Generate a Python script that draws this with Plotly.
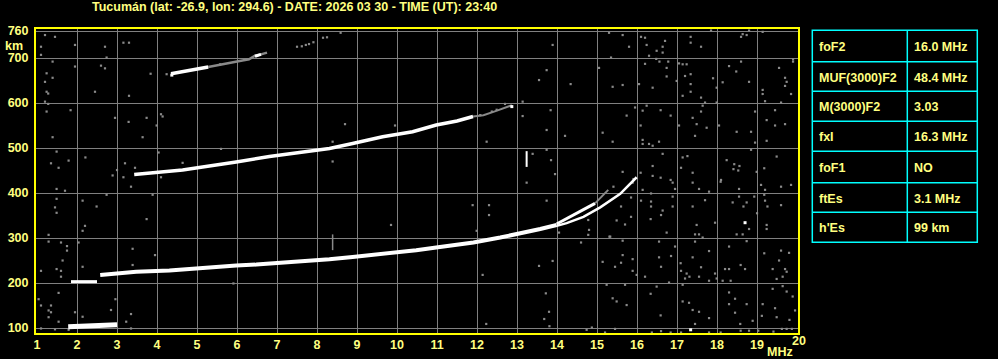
import plotly.graph_objects as go

# ---------------- data ----------------
title_text = "Tucumán (lat: -26.9, lon: 294.6) - DATE: 2026 03 30 - TIME (UT): 23:40"

freq_ticks = list(range(1, 21))
freq_tick_labels = [str(v) for v in range(1, 20)] + [""]
height_ticks = [100, 200, 300, 400, 500, 600, 700, 760]

param_names = ["foF2", "MUF(3000)F2", "M(3000)F2", "fxI", "foF1", "ftEs", "h'Es"]
param_values = ["16.0 MHz", "48.4 MHz", "3.03", "16.3 MHz", "NO", "3.1 MHz", "99 km"]

# sporadic E echo
es_f = [1.78, 2.1, 2.4, 2.75, 3.0]
es_h = [103, 104, 105, 106, 107]

# low F segment
flow_f = [1.85, 2.5]
flow_h = [203, 203]

# first-hop F trace
f1_f = [2.58, 2.98, 3.48, 4.31, 5.14, 5.98, 6.48, 7.39, 8.31, 8.89, 9.48, 9.98,
        10.48, 10.98, 11.5, 11.91, 12.58, 13.08, 13.58, 13.99]
f1_h = [218, 221, 225, 228, 234, 239, 241, 246, 253, 258, 263, 268,
        273, 279, 284, 290, 301, 310, 320, 329]

# two branches near the critical frequency
bra_f = [13.99, 14.58, 14.95]
bra_h = [331, 359, 377]
bra_gray_f = [14.95, 15.08, 15.28]
bra_gray_h = [377, 388, 407]
brb_f = [13.99, 14.24, 14.66, 15.08, 15.58, 15.99]
brb_h = [327, 333, 347, 368, 398, 435]

# second hop
h2_f = [3.43, 3.98, 4.64, 5.14, 5.64, 5.98, 6.81, 7.64, 8.31, 8.89, 9.64, 10.39,
        10.98, 11.5, 11.9]
h2_h = [441, 445, 451, 458, 464, 469, 481, 490, 499, 510, 525, 536,
        551, 560, 570]
h2_gray_f = [11.9, 12.16, 12.5, 12.87]
h2_gray_h = [570, 573, 583, 595]

# third hop
h3_f = [4.35, 4.7, 5.0, 5.28]
h3_h = [665, 671, 677, 680]
h3_gray_f = [5.28, 5.6, 5.85, 6.1, 6.3, 6.45, 6.6, 6.75]
h3_gray_h = [680, 686, 690, 694, 697, 705, 708, 712]
h3b_f = [6.45, 6.6]
h3b_h = [704, 708]

# spurious vertical streaks
spike_f = [13.24, 13.24]
spike_h = [458, 493]
spike2_f = [8.39, 8.39]
spike2_h = [273, 308]

# isolated bright pixels
white_f = [18.7, 17.34, 12.87, 4.37]
white_h = [334, 96, 592, 662]

# gray noise pixels
noise_f = [
    15.3, 15.64, 15.8, 16.1, 16.2, 16.24, 16.49, 16.64, 16.64, 16.7, 16.3, 15.35, 16.2, 16.48, 16.56, 16.78,
    16.74, 16.74, 17.05, 17.14, 17.24, 17.34, 17.34, 17.6, 17.85, 18.64, 18.74, 18.8, 19.14, 18.6, 19.9, 19.9,
    19.55, 18.6, 18.3, 18.48, 17.9, 18.14, 17.34, 17.2, 16.99, 16.39, 16.05, 15.64, 15.39, 17.34, 17.34, 17.14,
    17.6, 17.7, 17.99, 17.99, 18.8, 19.14, 19.14, 19.7, 19.74, 19.7, 19.85, 19.2, 19.6, 15.95, 16.14, 16.24,
    16.59, 16.84, 15.74, 16.09, 15.14, 15.39, 16.14, 16.14, 16.3, 16.39, 16.55, 17.05, 17.39, 17.49, 17.74, 17.45,
    17.6, 17.64, 18.05, 18.49, 18.85, 18.95, 19.24, 19.45, 19.45, 19.7, 18.95, 19.24, 18.85, 16.64, 17.14, 17.26,
    17.1, 17.39, 18.24, 18.43, 18.41, 18.53, 18.56, 19.18, 19.49, 16.39, 16.09, 15.64, 16.39, 16.59, 16.84, 16.89,
    17.39, 18.1, 18.99, 15.91,
    15.41, 15.89, 16.14, 16.35, 16.95, 17.55, 17.8, 18.09, 18.55, 19.1, 19.2, 19.6, 19.85, 15.85, 16.1, 16.35,
    16.35, 16.89, 16.89, 17.39, 17.7, 18.39, 18.55, 18.66, 18.74, 18.93, 19.18, 19.2, 19.26, 19.6, 19.0, 15.6,
    15.49, 15.7, 15.85, 16.34, 16.6, 16.64, 16.74, 17.49, 17.45, 17.55, 17.64, 17.95, 18.49, 18.64, 18.8, 19.24,
    19.24, 15.31, 15.64, 15.14, 15.45, 15.6, 15.64, 15.89, 15.89, 15.99, 16.2, 16.55, 16.55, 16.6, 16.85, 16.95,
    17.09, 17.1, 17.24, 17.2, 17.31, 17.39, 17.45, 17.6, 17.55, 17.8, 17.8, 17.95, 17.99, 18.2, 18.3, 18.3,
    18.14, 18.34, 18.59, 18.7, 18.74, 19.18, 19.39, 19.55, 19.6, 19.7, 19.74, 19.8, 19.49, 19.64, 15.24, 15.7,
    16.49, 16.8, 17.14, 16.34, 15.39, 15.49, 15.74, 16.59, 17.14, 17.3, 17.39, 17.55, 17.8, 17.45, 18.3, 18.45,
    18.3, 18.45, 18.74, 18.89, 18.58, 19.14, 19.39, 19.45, 19.64, 19.74, 19.89, 19.95, 19.81, 19.49, 19.12, 15.45,
    15.2, 16.37, 16.6, 16.84, 17.1, 17.8, 18.09, 18.59, 18.8, 19.03, 19.41, 19.62, 19.74, 19.87,
    3.29, 3.99, 1.39, 3.64, 1.49, 1.79, 1.35, 1.54, 2.21, 3.2, 3.0, 3.45, 4.04, 5.6, 4.64, 2.89,
    3.16, 3.35, 4.1, 1.49, 1.7, 2.74, 3.89, 1.49, 2.14, 2.49, 1.45, 1.49, 3.74, 2.2, 2.14, 1.29,
    1.29, 1.6, 1.75, 1.75, 2.04, 3.39, 3.95, 1.64, 2.14, 1.49, 1.6, 1.6, 1.1, 3.39, 5.91, 1.54,
    1.04, 2.96, 1.1, 1.35, 1.29, 1.35, 1.95, 2.14, 2.85, 3.35, 3.23, 1.29, 1.54, 1.1, 1.45, 1.79,
    3.35,
    8.7, 9.95, 8.39, 8.39, 9.85,
    13.89, 13.74, 13.55, 14.34, 15.05,
    1.2, 1.45, 1.1, 1.95, 1.1, 1.39, 2.7, 2.74, 1.95, 2.6, 2.7, 3.16, 3.3, 1.24, 1.2, 1.39,
    1.24, 1.28, 2.45, 3.3, 3.84, 1.2, 1.28, 1.24, 1.84, 2.95, 3.74, 4.1, 4.14, 5.58, 12.37, 12.49,
    12.08, 12.7,
    7.5, 7.62, 7.72, 7.8, 7.91, 8.15, 8.25, 8.59, 4.24,
    13.14, 13.14, 13.84, 13.74, 14.2, 12.24, 13.74, 13.39, 13.85, 13.95, 13.24, 11.89, 12.3, 12.3, 13.74, 14.78,
    14.8, 14.78, 15.33, 14.6, 11.99, 14.05,
    12.14, 13.55, 13.89, 13.72, 13.8, 13.68, 13.81, 12.23, 14.74, 14.87,
]
noise_h = [
    756, 751, 725, 747, 745, 729, 716, 725, 712, 738, 705, 701, 687, 698, 692, 692,
    678, 659, 688, 686, 686, 747, 734, 725, 761, 753, 751, 761, 758, 747, 697, 692,
    678, 692, 682, 670, 655, 646, 664, 660, 649, 634, 642, 640, 636, 642, 625, 616,
    612, 601, 634, 601, 647, 629, 620, 656, 647, 638, 620, 604, 601, 590, 583, 594,
    584, 572, 572, 550, 534, 514, 518, 509, 509, 505, 514, 550, 567, 553, 545, 527,
    581, 594, 550, 536, 536, 581, 562, 584, 550, 553, 512, 516, 496, 487, 479, 482,
    456, 445, 473, 464, 453, 450, 460, 455, 481, 460, 445, 447, 438, 434, 429, 423,
    423, 429, 447, 431,
    414, 423, 407, 399, 409, 409, 403, 425, 409, 418, 407, 414, 418, 390, 383, 381,
    370, 392, 370, 370, 384, 379, 392, 370, 379, 392, 396, 383, 370, 373, 355, 370,
    339, 330, 347, 342, 351, 361, 312, 329, 308, 308, 301, 334, 308, 308, 320, 329,
    320, 303, 294, 247, 236, 245, 262, 253, 227, 218, 214, 292, 257, 236, 260, 281,
    244, 227, 221, 210, 214, 257, 292, 235, 214, 271, 205, 221, 210, 231, 231, 281,
    205, 205, 240, 231, 293, 266, 231, 250, 272, 231, 225, 267, 209, 214, 196, 196,
    192, 201, 196, 176, 166, 159, 151, 128, 159, 156, 140, 136, 122, 109, 179, 165,
    153, 134, 153, 116, 109, 153, 187, 144, 193, 181, 170, 139, 118, 124, 127, 98,
    90, 90, 93, 90, 90, 90, 90, 94, 94, 94, 92, 98, 98, 98,
    558, 550, 524, 524, 492, 472, 466, 456, 479, 466, 451, 456, 490, 498, 467, 439,
    435, 414, 435, 409, 405, 396, 396, 387, 383, 370, 368, 356, 342, 327, 316, 307,
    292, 290, 282, 272, 290, 276, 262, 250, 236, 231, 227, 214, 227, 240, 199, 178,
    164, 164, 150, 150, 139, 135, 135, 125, 140, 131, 114, 124, 114, 99, 97, 96,
    99,
    553, 550, 514, 470, 329,
    729, 673, 651, 642, 678,
    751, 747, 725, 729, 707, 692, 725, 701, 681, 683, 677, 734, 734, 666, 647, 656,
    625, 621, 625, 616, 665, 603, 598, 581, 584, 567, 567, 575, 570, 686, 581, 585,
    573, 598,
    725, 726, 729, 731, 735, 745, 746, 756, 664,
    603, 571, 584, 540, 527, 514, 496, 487, 473, 442, 423, 373, 373, 351, 383, 340,
    318, 307, 303, 290, 316, 312,
    218, 238, 249, 177, 136, 120, 104, 109, 96, 101,
]

# ---------------- layout helpers ----------------
W, H = 998, 359
ML, MR, MT, MB = 36, 200, 29, 26
PW = W - ML - MR
PH = H - MT - MB


def px2x(px):
    return (px - ML) / PW


def py2y(py):
    return (H - MB - py) / PH


YEL = "#ffff80"
GRID = "#808080"
FONT = "Liberation Sans, Arial, sans-serif"

fig = go.Figure()

# noise first
fig.add_trace(go.Scatter(x=noise_f, y=noise_h, mode="markers",
                         marker=dict(symbol="square", size=2.2, color="#8a8a8a", line=dict(width=0)),
                         hoverinfo="skip", showlegend=False))


def add_line(xs, ys, color="#ffffff", width=4):
    fig.add_trace(go.Scatter(x=xs, y=ys, mode="lines",
                             line=dict(color=color, width=width),
                             hoverinfo="skip", showlegend=False))


add_line(es_f, es_h, width=5)
add_line(flow_f, flow_h, width=3)
add_line(f1_f, f1_h, width=4)
add_line(bra_f, bra_h, width=3)
add_line(bra_gray_f, bra_gray_h, color="#8a8a8a", width=2)
add_line(brb_f, brb_h, width=2.5)
add_line(h2_f, h2_h, width=3.5)
add_line(h2_gray_f, h2_gray_h, color="#8a8a8a", width=2)
add_line(h3_gray_f, h3_gray_h, color="#8a8a8a", width=2.5)
add_line(h3_f, h3_h, width=3.5)
add_line(h3b_f, h3b_h, width=3)
add_line(spike_f, spike_h, width=2)
add_line(spike2_f, spike2_h, color="#8a8a8a", width=1.5)

fig.add_trace(go.Scatter(x=white_f, y=white_h, mode="markers",
                         marker=dict(symbol="square", size=3, color="#ffffff", line=dict(width=0)),
                         hoverinfo="skip", showlegend=False))

# axes
fig.update_xaxes(range=[1 - 1 / 40, 20 + 1 / 40 * 0.95], tickvals=freq_ticks, ticktext=freq_tick_labels,
                 showgrid=True, gridcolor=GRID, gridwidth=1, zeroline=False,
                 showline=True, linecolor="#ffff00", linewidth=2, mirror=True,
                 ticks="", ticklabelstandoff=-1, automargin=False,
                 tickfont=dict(family=FONT, size=12.5, color=YEL, weight="bold"))
fig.update_yaxes(range=[100 - 5 / 0.45, 100 + 299 / 0.45], tickvals=height_ticks,
                 showgrid=True, gridcolor=GRID, gridwidth=1, zeroline=False,
                 showline=True, linecolor="#ffff00", linewidth=2, mirror=True,
                 ticks="", ticklabelstandoff=3, automargin=False,
                 tickfont=dict(family=FONT, size=12.5, color=YEL, weight="bold"))

annotations = []
annotations.append(dict(text=title_text, x=px2x(294.5), y=py2y(7.5), xref="paper", yref="paper",
                        xanchor="center", yanchor="middle", showarrow=False,
                        font=dict(family=FONT, size=12.5, color=YEL, weight="bold")))
annotations.append(dict(text="km", x=px2x(14), y=py2y(46), xref="paper", yref="paper",
                        xanchor="center", yanchor="middle", showarrow=False,
                        font=dict(family=FONT, size=12.5, color=YEL, weight="bold")))
annotations.append(dict(text="MHz", x=px2x(779.5), y=py2y(352), xref="paper", yref="paper",
                        xanchor="center", yanchor="middle", showarrow=False,
                        font=dict(family=FONT, size=12.5, color=YEL, weight="bold")))
annotations.append(dict(text="20", x=px2x(798.5), y=py2y(341), xref="paper", yref="paper",
                        xanchor="center", yanchor="middle", showarrow=False,
                        font=dict(family=FONT, size=12.5, color=YEL, weight="bold")))

# parameter table
tx0, tx1, tcol = 812.3, 977.3, 907.3
row_edges = [30.3, 61.7, 91.3, 121.3, 151.3, 182.7, 212.3, 242.3]
shapes = []
CY = "#00ffff"
shapes.append(dict(type="rect", xref="paper", yref="paper", x0=px2x(tx0), x1=px2x(tx1),
                   y0=py2y(row_edges[0]), y1=py2y(row_edges[-1]), line=dict(color=CY, width=1.5)))
shapes.append(dict(type="line", xref="paper", yref="paper", x0=px2x(tcol), x1=px2x(tcol),
                   y0=py2y(row_edges[0]), y1=py2y(row_edges[-1]), line=dict(color=CY, width=1.5)))
for ry in row_edges[1:-1]:
    shapes.append(dict(type="line", xref="paper", yref="paper", x0=px2x(tx0), x1=px2x(tx1),
                       y0=py2y(ry), y1=py2y(ry), line=dict(color=CY, width=1.5)))
for i, (nm, val) in enumerate(zip(param_names, param_values)):
    cy = (row_edges[i] + row_edges[i + 1]) / 2 + 1
    annotations.append(dict(text=nm, x=px2x(816.5), y=py2y(cy), xref="paper", yref="paper",
                            xanchor="left", yanchor="middle", showarrow=False,
                            font=dict(family=FONT, size=12.5, color=YEL, weight="bold")))
    annotations.append(dict(text=val, x=px2x(911.5), y=py2y(cy), xref="paper", yref="paper",
                            xanchor="left", yanchor="middle", showarrow=False,
                            font=dict(family=FONT, size=12.5, color=YEL, weight="bold")))

fig.update_layout(width=W, height=H, margin=dict(l=ML, r=MR, t=MT, b=MB),
                  paper_bgcolor="#000000", plot_bgcolor="#000000",
                  annotations=annotations, shapes=shapes, showlegend=False)

fig.write_html("out.html")
